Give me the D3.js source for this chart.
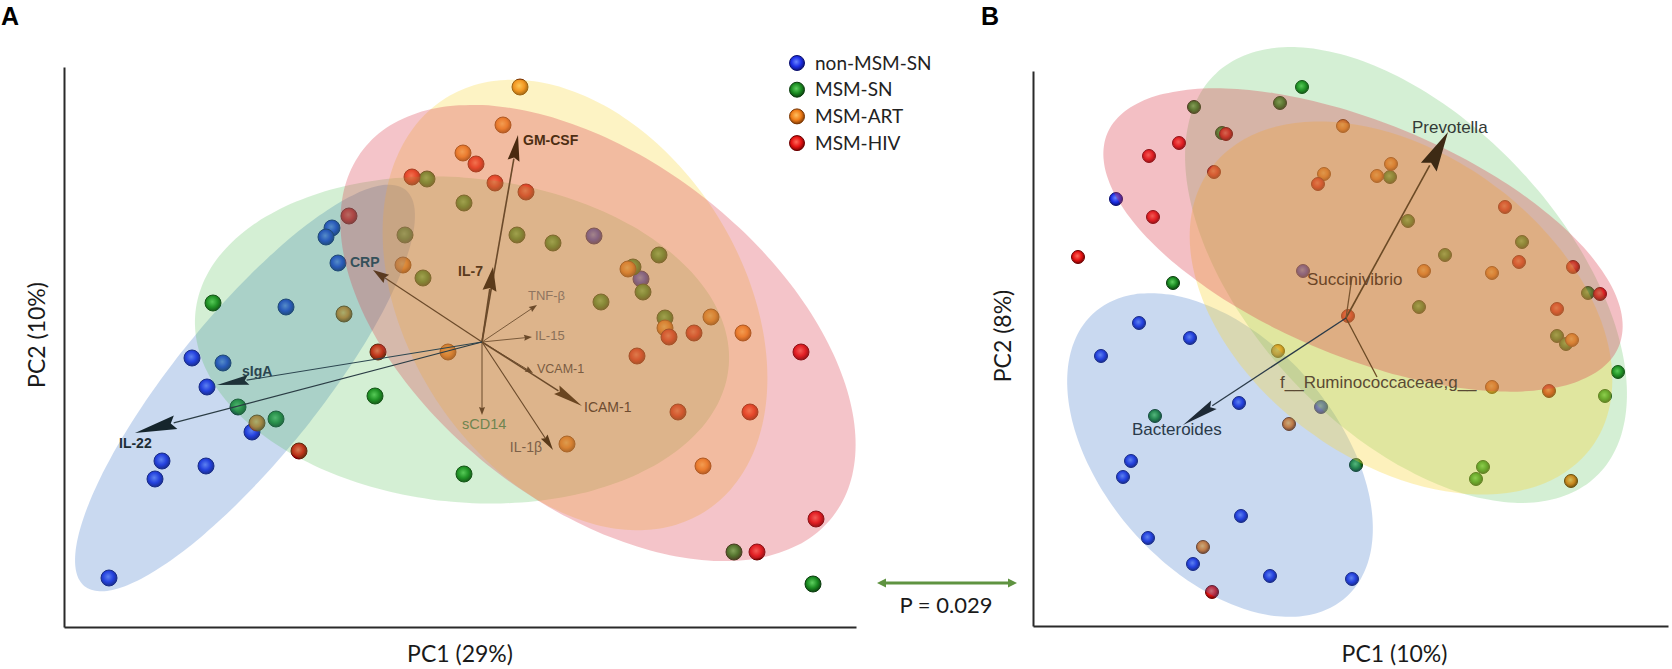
<!DOCTYPE html>
<html><head><meta charset="utf-8">
<script src="https://cdn.jsdelivr.net/npm/d3@7"></script>
<style>body{margin:0;background:#fff} svg{display:block}</style>
</head><body>
<svg id="c" width="1672" height="669"></svg>
<script>
// ---------------- DATA ----------------
const groups = ["non-MSM-SN", "MSM-SN", "MSM-ART", "MSM-HIV"];

// Panel A : PC1 / PC2 scores (arbitrary units) per group
const aNonMSMSN = [[268,399],[262,390],[274,364],[222,320],[128,269],[159,264],[143,240],[188,195],[98,166],[91,148],[142,161],[45,49],[530,391],[577,348]];
const aMSMSN    = [[341,392],[149,324],[174,220],[311,231],[212,208],[363,448],[400,424],[453,392],[489,384],[595,372],[359,349],[569,360],[579,335],[537,325],[601,309],[400,153],[670,75],[749,43]];
const aMSMART   = [[339,362],[280,313],[193,204],[456,540],[439,502],[399,474],[564,358],[601,299],[647,310],[679,294],[384,275],[503,183],[639,161]];
const aMSMHIV   = [[348,450],[285,411],[314,275],[235,176],[412,463],[431,444],[462,435],[605,290],[630,294],[573,271],[737,275],[686,215],[614,215],[752,108],[693,75]];
// confidence ellipses A: [cx, cy, semi-major, semi-minor, angle deg]
const aEllipses = [[181,239,255,72,51],[398,287,268,162,-6],[511,322,244,168,-58],[534,294,298,172,-38]];
// loadings A
const aOrigin = [418,285];
const aLoadNames = ["GM-CSF","IL-7","CRP","TNF-β","IL-15","VCAM-1","ICAM-1","IL-1β","sCD14","sIgA","IL-22"];
const aLoadTips  = [[454,492],[429,360],[309,357],[473,322],[468,290],[469,254],[518,221],[489,177],[418,212],[153,242],[71,194]];

// Panel B
const bNonMSMSN = [[83,427],[106,303],[157,288],[68,270],[206,223],[98,165],[90,149],[208,110],[115,88],[160,62],[237,50],[319,47],[270,355],[288,219]];
const bMSMSN    = [[269,539],[247,523],[161,519],[189,493],[140,343],[357,449],[375,405],[489,384],[412,371],[555,333],[386,319],[524,290],[533,282],[585,254],[572,230],[323,161],[450,159],[443,147],[122,210]];
const bMSMART   = [[310,500],[358,462],[291,452],[344,450],[391,355],[459,353],[539,286],[245,275],[459,239],[256,202],[538,145],[170,79]];
const bMSMHIV   = [[193,492],[146,483],[116,470],[181,454],[120,409],[45,369],[285,442],[472,419],[486,364],[540,359],[567,332],[524,317],[315,310],[516,235],[179,34]];
const bEllipses = [[187,171,190,116,-48.6],[373,351,277,155,-46.7],[368,318,236,154,-36],[330,386,277,117,-22.6]];
const bOrigin = [313,308];
const bLoadNames = ["Prevotella","Succinivibrio","f__Ruminococcaceae;g__","Bacteroides"];
const bLoadTips  = [[415,494],[319,349],[344,249],[150,201]];

const axisTitles = {aX:"PC1 (29%)", aY:"PC2 (10%)", bX:"PC1 (10%)", bY:"PC2 (8%)"};
const pText = "P = 0.029";

// ---------------- STYLE ----------------
const ptColors = [
  {base:"#1c2ee6", light:"#6a86ff", dark:"#0b1070"},
  {base:"#1b8c22", light:"#5fd060", dark:"#0b3d0e"},
  {base:"#f07d18", light:"#ffc060", dark:"#7a3500"},
  {base:"#e51212", light:"#ff6a5a", dark:"#6e0000"}
];
const ellFill = ["#3c78c8","#3cb43c","#fad73c","#dc3c4b"];
const ellOpacityA = [0.28,0.22,0.30,0.30];
const ellOpacityB = [0.28,0.22,0.34,0.33];

const aStyle = {
  "GM-CSF":{len:26,hw:6,head:"#4a2a10",line:"#6b4a2a",lw:1.6,dx:5,dy:10,anchor:"start",size:14,weight:"bold",color:"#4d2e12"},
  "IL-7":{len:24,hw:7,head:"#5a3a1a",line:"#6b4a2a",lw:1.6,dx:-10,dy:9,anchor:"end",size:14,weight:"bold",color:"#5a3a1c"},
  "CRP":{len:16,hw:5,head:"#5a3a20",line:"#6b4a2a",lw:1.2,dx:-23,dy:-3,anchor:"start",size:14,weight:"bold",color:"#34505a"},
  "TNF-β":{len:8,hw:3,head:"#6b4a2a",line:"#7a5a3a",lw:1,dx:-9,dy:-5,anchor:"start",size:13,weight:"normal",color:"#8f7560"},
  "IL-15":{len:8,hw:3,head:"#6b4a2a",line:"#7a5a3a",lw:1,dx:3,dy:3,anchor:"start",size:13,weight:"normal",color:"#8a7058"},
  "VCAM-1":{len:8,hw:3,head:"#6b4a2a",line:"#6b4a2a",lw:1,dx:4,dy:0,anchor:"start",size:12.5,weight:"normal",color:"#7a5c42"},
  "ICAM-1":{len:30,hw:5,head:"#6a4520",line:"#6b4a2a",lw:1.5,dx:2,dy:6,anchor:"start",size:14,weight:"normal",color:"#6e4c30"},
  "IL-1β":{len:16,hw:4,head:"#5a3a1a",line:"#6b4a2a",lw:1.1,dx:-11,dy:2,anchor:"end",size:14,weight:"normal",color:"#7c6048"},
  "sCD14":{len:8,hw:3,head:"#6b4a2a",line:"#6b4a2a",lw:1,dx:-20,dy:14,anchor:"start",size:14.5,weight:"normal",color:"#6f8450"},
  "sIgA":{len:32,hw:5,head:"#1e3238",line:"#2c4650",lw:1.2,dx:25,dy:-9,anchor:"start",size:14,weight:"bold",color:"#2a4650"},
  "IL-22":{len:42,hw:7,head:"#15252c",line:"#2a3c44",lw:1.2,dx:-16,dy:15,anchor:"start",size:14,weight:"bold",color:"#1d2d35"}
};
const bStyle = {
  "Prevotella":{len:40,hw:9,head:"#3d2a14",line:"#6b4a25",lw:1.6,dx:-36,dy:1,anchor:"start",size:17,weight:"normal",color:"#333a36"},
  "Succinivibrio":{len:0,hw:0,head:"#6b4a25",line:"#7a5530",lw:1.3,dx:-45,dy:8,anchor:"start",size:17,weight:"normal",color:"#6b4526"},
  "f__Ruminococcaceae;g__":{len:0,hw:0,head:"#6b4a25",line:"#6b4a25",lw:1.3,dx:-97,dy:11,anchor:"start",size:17,weight:"normal",color:"#5a4a34"},
  "Bacteroides":{len:37,hw:5,head:"#1e2a36",line:"#2a3a48",lw:1.3,dx:-51,dy:10,anchor:"start",size:17,weight:"normal",color:"#2a3a4a"}
};

// ---------------- DRAW ----------------
const svg = d3.select("#c");
const defs = svg.append("defs");
ptColors.forEach((c,i)=>{
  const rg = defs.append("radialGradient").attr("id","pg"+i).attr("cx","45%").attr("cy","42%").attr("r","60%");
  rg.append("stop").attr("offset","0%").attr("stop-color",c.light);
  rg.append("stop").attr("offset","55%").attr("stop-color",c.base);
  rg.append("stop").attr("offset","100%").attr("stop-color",c.dark);
});

function ellipsePath(e, x, y){
  const [cx,cy,a,b,ang] = e, th = ang*Math.PI/180;
  const pts = d3.range(0,360,3).map(t=>{
    const p=t*Math.PI/180;
    return [x(cx + a*Math.cos(p)*Math.cos(th) - b*Math.sin(p)*Math.sin(th)),
            y(cy + a*Math.cos(p)*Math.sin(th) + b*Math.sin(p)*Math.cos(th))];
  });
  return d3.line().curve(d3.curveCardinalClosed)(pts);
}

function panel(cfg){
  const x = d3.scaleLinear().domain(cfg.xd).range(cfg.xr);
  const y = d3.scaleLinear().domain(cfg.yd).range(cfg.yr);
  const g = svg.append("g");
  // axes
  const ax = g.append("g").attr("transform",`translate(0,${cfg.yr[0]})`)
    .call(d3.axisBottom(x).tickValues([]).tickSizeOuter(0));
  const ay = g.append("g").attr("transform",`translate(${cfg.xr[0]},0)`)
    .call(d3.axisLeft(y).tickValues([]).tickSizeOuter(0));
  [ax,ay].forEach(a=>a.select(".domain").attr("stroke","#2a2a2a").attr("stroke-width",2));
  // points
  cfg.series.forEach((s,i)=>{
    g.append("g").selectAll("circle").data(s).join("circle")
      .attr("cx",d=>x(d[0])).attr("cy",d=>y(d[1])).attr("r",cfg.r)
      .attr("fill",`url(#pg${i})`).attr("stroke",ptColors[i].dark).attr("stroke-width",1);
  });
  // translucent ellipses over the points
  cfg.ellipses.forEach((e,i)=>{
    g.append("path").attr("d",ellipsePath(e,x,y)).attr("fill",ellFill[i]).attr("fill-opacity",cfg.ellOp[i]);
  });
  // loadings
  const o = [x(cfg.origin[0]), y(cfg.origin[1])];
  cfg.names.forEach((n,i)=>{
    const st = cfg.style[n];
    const t = [x(cfg.tips[i][0]), y(cfg.tips[i][1])];
    const dxv=t[0]-o[0], dyv=t[1]-o[1], L=Math.hypot(dxv,dyv), ux=dxv/L, uy=dyv/L;
    const base=[t[0]-ux*st.len, t[1]-uy*st.len];
    g.append("line").attr("x1",o[0]).attr("y1",o[1]).attr("x2",st.len?base[0]+ux*2:t[0]).attr("y2",st.len?base[1]+uy*2:t[1])
      .attr("stroke",st.line).attr("stroke-width",st.lw);
    if(st.len){
      g.append("path").attr("d",`M${t[0]},${t[1]}L${base[0]-uy*st.hw},${base[1]+ux*st.hw}L${base[0]+ux*st.len*0.12},${base[1]+uy*st.len*0.12}L${base[0]+uy*st.hw},${base[1]-ux*st.hw}Z`)
        .attr("fill",st.head);
    }
    g.append("text").attr("x",t[0]+st.dx).attr("y",t[1]+st.dy).attr("text-anchor",st.anchor)
      .attr("font-family","'Liberation Sans', Arial, sans-serif").attr("font-size",st.size)
      .attr("font-weight",st.weight).attr("fill",st.color).text(n);
  });
  // axis titles
  g.append("text").attr("x",(cfg.xr[0]+cfg.xr[1])/2 + (cfg.xtOff||0)).attr("y",662).attr("text-anchor","middle")
    .attr("font-family","Lato, 'Open Sans', sans-serif").attr("font-size",23).attr("fill","#1a1a1a").text(cfg.xt);
  g.append("text").attr("transform",`translate(${cfg.ytx},${cfg.yty}) rotate(-90)`).attr("text-anchor","middle")
    .attr("font-family","Lato, 'Open Sans', sans-serif").attr("font-size",23).attr("fill","#1a1a1a").text(cfg.yt);
  g.append("text").attr("x",cfg.lx).attr("y",25).attr("font-family","'Liberation Sans', Arial, sans-serif")
    .attr("font-weight","bold").attr("font-size",25).attr("fill","#000").text(cfg.label);
  return {x,y};
}

panel({xd:[0,792], xr:[64,856], yd:[0,560], yr:[627,67], r:8,
  series:[aNonMSMSN,aMSMSN,aMSMART,aMSMHIV], ellipses:aEllipses, ellOp:ellOpacityA,
  origin:aOrigin, names:aLoadNames, tips:aLoadTips, style:aStyle,
  xt:axisTitles.aX, yt:axisTitles.aY, ytx:45, yty:335, label:"A", lx:1});

panel({xd:[0,635], xr:[1033,1668], yd:[0,555], yr:[626,71], r:6.5,
  series:[bNonMSMSN,bMSMSN,bMSMART,bMSMHIV], ellipses:bEllipses, ellOp:ellOpacityB,
  origin:bOrigin, names:bLoadNames, tips:bLoadTips, style:bStyle,
  xt:axisTitles.bX, xtOff:44, yt:axisTitles.bY, ytx:1011, yty:336, label:"B", lx:981});

// legend
const leg = svg.append("g").attr("transform","translate(797,63)");
groups.forEach((gname,i)=>{
  const row = leg.append("g").attr("transform",`translate(0,${i*26.7})`);
  row.append("circle").attr("r",7.5).attr("fill",`url(#pg${i})`).attr("stroke",ptColors[i].dark).attr("stroke-width",1);
  row.append("text").attr("x",18).attr("y",0).attr("dy","0.35em").attr("font-family","Lato, 'Open Sans', sans-serif")
    .attr("font-size",19).attr("fill","#222").text(gname);
});

// comparison arrow + p value
const ca = svg.append("g");
const cy0 = 583, cx1 = 877, cx2 = 1017, gc = "#5f9341";
ca.append("line").attr("x1",cx1+6).attr("x2",cx2-6).attr("y1",cy0).attr("y2",cy0).attr("stroke",gc).attr("stroke-width",3);
ca.append("path").attr("d",`M${cx1},${cy0}L${cx1+9},${cy0-4.5}L${cx1+9},${cy0+4.5}Z`).attr("fill",gc);
ca.append("path").attr("d",`M${cx2},${cy0}L${cx2-9},${cy0-4.5}L${cx2-9},${cy0+4.5}Z`).attr("fill",gc);
ca.append("text").attr("x",(cx1+cx2)/2 - 1).attr("y",613).attr("text-anchor","middle")
  .attr("font-family","Lato, 'Open Sans', sans-serif").attr("font-size",22).attr("fill","#1a1a1a").text(pText);
</script>
</body></html>
